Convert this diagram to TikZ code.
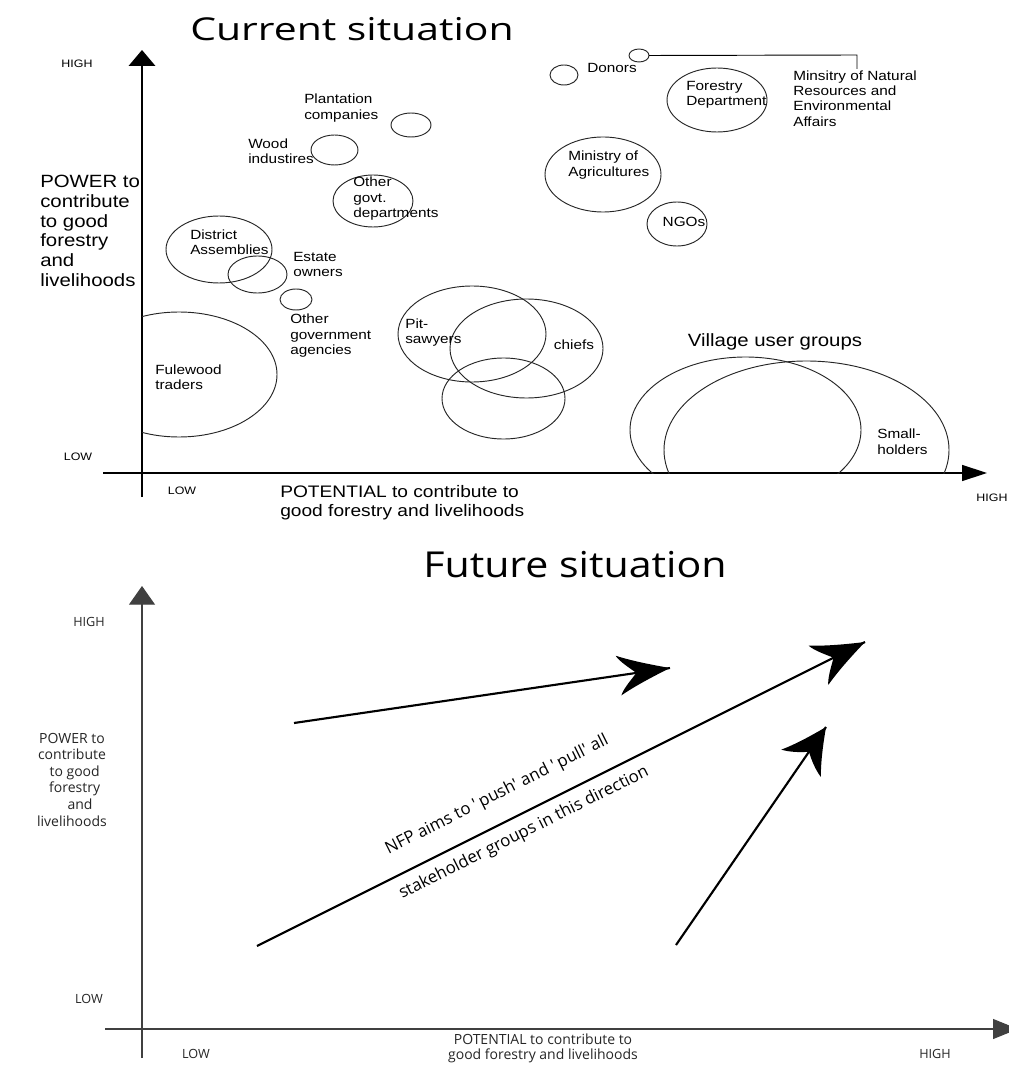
\documentclass[tikz,border=0pt]{standalone}
\usepackage{fontspec}
\setmainfont{Liberation Sans}
\newfontfamily\arialx[FakeStretch=1.15]{Liberation Sans}
\newfontfamily\ttlA[FakeStretch=1.3]{Open Sans}
\newfontfamily\ttlB[FakeStretch=1.15]{Open Sans}
\newfontfamily\osans{Open Sans}
\usetikzlibrary{shapes.geometric,arrows.meta,decorations.markings}
\tikzset{
  ell/.style={draw=black!85, line width=0.7pt, ellipse, inner sep=0pt, outer sep=0pt},
  lab/.style={font=\arialx\fontsize{10}{11.6}\selectfont, align=left, anchor=west, inner sep=0pt},
  labc/.style={font=\arialx\fontsize{10}{11.6}\selectfont, inner sep=0pt},
  big/.style={font=\arialx\fontsize{13.3}{14.8}\selectfont, align=left, inner sep=0pt},
  potlab/.style={font=\arialx\fontsize{12.5}{14.3}\selectfont, align=left, inner sep=0pt},
  hl/.style={font=\arialx\fontsize{8.1}{9}\selectfont, inner sep=0pt},
  axisT/.style={line width=1pt, draw=black},
  axisB/.style={line width=0.8pt, draw=black!75},
  fsm/.style={font=\osans\fontsize{9.5}{10}\selectfont, inner sep=0pt, text=black!85},
  fpot/.style={font=\osans\fontsize{10.5}{11.25}\selectfont, inner sep=0pt, align=center, text=black!85},
  fpow/.style={font=\osans\fontsize{10.5}{12.45}\selectfont, inner sep=0pt, align=center, text=black!85},
  frot/.style={font=\osans\fontsize{12.6}{14}\selectfont, inner sep=0pt},
  farrow/.style={line width=1.6pt, draw=black},
  barb/.style n args={3}{postaction={decorate, decoration={markings,
    mark=at position 1 with {\fill (0,0) .. controls (-0.35*#1,-0.3*#2) and (-0.7*#1,-0.62*#2) .. (-#1,-#2)
      .. controls (-0.95*#1,-0.7*#2) and (-#3-6,-0.3*#2) .. (-#3,0)
      .. controls (-#3-6,0.3*#2) and (-0.95*#1,0.7*#2) .. (-#1,#2)
      .. controls (-0.7*#1,0.62*#2) and (-0.35*#1,0.3*#2) .. (0,0) -- cycle;}}}}
}
\begin{document}
\begin{tikzpicture}[x=0.75pt,y=-0.75pt]
\useasboundingbox (0,0) rectangle (1008,1069);
\fill[white] (0,0) rectangle (1008,1069);

% ---------------- Current situation ----------------
\node[font=\ttlA\fontsize{23.6}{28}\selectfont, anchor=base, inner sep=0pt] (title1) at (352,41) {Current situation};

\coordinate (yb1) at (142,497);
\coordinate (yt1) at (142,50);
\coordinate (xl1) at (103,473);
\coordinate (xr1) at (987,473);
\draw[axisT, -{Triangle[length=12pt,width=20pt]}] (yb1) -- (yt1);
\draw[axisT, -{Triangle[length=18.75pt,width=12pt]}] (xl1) -- (xr1);

\node[hl] (high1) at (77,64) {HIGH};
\node[hl] (low1) at (78,457) {LOW};
\node[hl] (lowx1) at (182,491) {LOW};
\node[hl] (highx1) at (992,498) {HIGH};

\node[big, anchor=west] (power1) at (40,231) {POWER to\\contribute\\to good\\forestry\\and\\livelihoods};
\node[potlab, anchor=west] (pot1) at (280,502.5) {POTENTIAL to contribute to\\good forestry and livelihoods};

% ellipses
\node[ell, minimum width=21pt, minimum height=15pt] (donors) at (564,75) {};
\node[ell, minimum width=15pt, minimum height=9.75pt] (mn) at (639,55.5) {};
\node[ell, minimum width=75pt, minimum height=48pt] (forestry) at (717,100) {};
\node[ell, minimum width=87pt, minimum height=56.25pt] (minagri) at (603,174.5) {};
\node[ell, minimum width=45pt, minimum height=33pt] (ngo) at (677,224) {};
\node[ell, minimum width=30pt, minimum height=18pt] (plant) at (411,125) {};
\node[ell, minimum width=35.25pt, minimum height=22.5pt] (wood) at (334.5,150) {};
\node[ell, minimum width=60pt, minimum height=39pt] (othgovt) at (373,201) {};
\node[ell, minimum width=79.5pt, minimum height=50.25pt] (district) at (219,249.5) {};
\node[ell, minimum width=44.25pt, minimum height=27.75pt] (estate) at (257.5,274.5) {};
\node[ell, minimum width=24pt, minimum height=15.75pt] (agencies) at (296,299.5) {};
\node[ell, minimum width=111pt, minimum height=72pt] (pit) at (472,334) {};
\node[ell, minimum width=114.75pt, minimum height=74.25pt] (chiefs) at (526.5,348.5) {};
\node[ell, minimum width=92.25pt, minimum height=60.75pt] (third) at (503.5,398.5) {};
\begin{scope}
  \clip (142,0) rectangle (1008,473);
  \node[ell, minimum width=147pt, minimum height=93.75pt] (fulewood) at (179,374.5) {};
  \node[ell, minimum width=173.25pt, minimum height=109.5pt] (vug1) at (745.5,430) {};
  \node[ell, minimum width=213.75pt, minimum height=133.5pt] (vug2) at (806.5,450) {};
\end{scope}

% connector to Ministry of Natural Resources
\coordinate (mncorner) at (857,55);
\coordinate (mnend) at (857,69);
\draw[line width=0.7pt] (mn.east) -- (mncorner) -- (mnend);

% labels
\node[labc] (donlab) at (612,68) {Donors};
\node[lab] (mnlab) at (793,98.5) {Minsitry of Natural\\Resources and\\Environmental\\Affairs};
\node[lab] (forlab) at (686,95) {Forestry\\Department};
\node[lab] (agrlab) at (568,165) {Ministry of\\Agricultures};
\node[labc] (ngolab) at (684,222) {NGOs};
\node[lab] (plantlab) at (304,108) {Plantation\\companies};
\node[lab] (woodlab) at (248,151) {Wood\\industires};
\node[lab] (othlab) at (353,199) {Other\\govt.\\departments};
\node[lab] (distlab) at (190,242.5) {District\\Assemblies};
\node[lab] (estlab) at (293,264.5) {Estate\\owners};
\node[lab] (agelab) at (290,336) {Other\\government\\agencies};
\node[lab] (fullab) at (155,377) {Fulewood\\traders};
\node[lab] (pitlab) at (405,332.5) {Pit-\\sawyers};
\node[labc] (chieflab) at (574,345) {chiefs};
\node[big] (vuglab) at (775,342) {Village user groups};
\node[lab] (smlab) at (877,441.5) {Small-\\holders};

% ---------------- Future situation ----------------
\node[font=\ttlB\fontsize{26.8}{30}\selectfont, anchor=base, inner sep=0pt] (title2) at (575,577) {Future situation};

\coordinate (yb2) at (142,1058);
\coordinate (yt2) at (142,586);
\coordinate (xl2) at (105,1029);
\coordinate (xr2) at (1018,1029);
\draw[axisB, -{Triangle[length=14pt,width=19.5pt]}] (yb2) -- (yt2);
\draw[axisB, -{Triangle[length=18.75pt,width=15pt]}] (xl2) -- (xr2);

\node[fsm] (high2) at (89,622) {HIGH};
\node[fsm] (low2) at (89,999) {LOW};
\node[fsm] (lowx2) at (196,1054) {LOW};
\node[fsm] (highx2) at (935,1054) {HIGH};
\node[fpow] (power2) at (72,779.5) {POWER to\\contribute\\\hspace*{4pt}to good\\\hspace*{4pt}forestry\\\hspace*{12pt}and\\livelihoods};
\node[fpot] (pot2) at (543,1048) {POTENTIAL to contribute to\\good forestry and livelihoods};

\coordinate (a1s) at (294,723);
\coordinate (a1e) at (670,668);
\coordinate (a2s) at (257,946);
\coordinate (a2e) at (865,642);
\coordinate (a3s) at (676,945);
\coordinate (a3e) at (826,727);
\draw[farrow, barb={52}{20}{34}] (a1s) -- (a1e);
\draw[farrow, barb={52}{22}{35}] (a2s) -- (a2e);
\draw[farrow, barb={44}{24}{30}] (a3s) -- (a3e);

\node[frot, rotate=26.6] (nfp) at (497,795) {NFP aims to '\,push' and '\,pull' all};
\node[frot, rotate=26.6] (stake) at (524,833) {stakeholder groups in this direction};
\end{tikzpicture}
\end{document}
